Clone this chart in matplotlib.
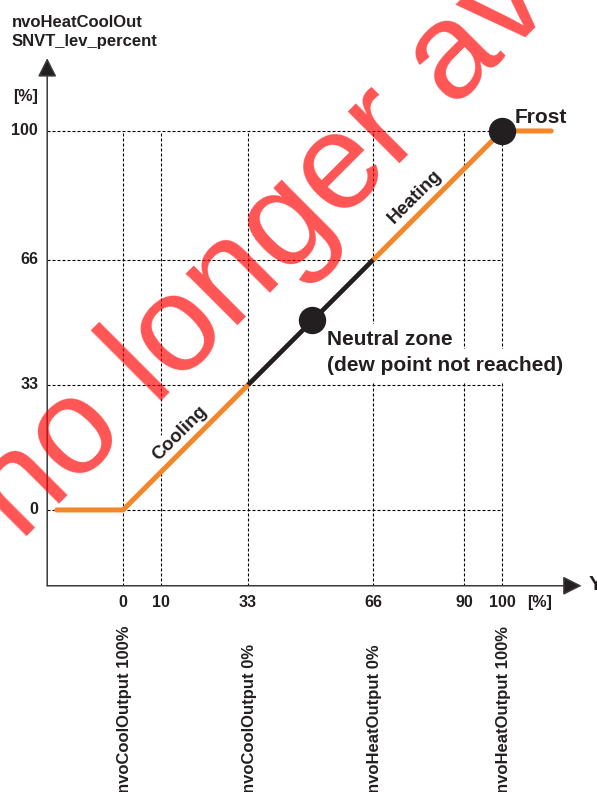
import matplotlib
matplotlib.use("Agg")
import matplotlib.pyplot as plt

plt.rcParams['font.family'] = ['Liberation Sans', 'DejaVu Sans']

# ---- data ----
curve_x = [-17.5, 0, 33, 66, 100, 113]
curve_y = [0, 0, 33, 66, 100, 100]
neutral_seg = (2, 3)          # indexes of black "neutral zone" segment
points_x = [50, 100]
points_y = [50, 100]
x_ticks = [0, 10, 33, 66, 90, 100]
x_tick_labels = ["0", "10", "33", "66", "90", "100"]
y_ticks = [0, 33, 66, 100]
y_tick_labels = ["0", "33", "66", "100"]
out_pos = [0, 33, 66, 100]
out_labels = ["nvoCoolOutput 100%", "nvoCoolOutput 0%",
              "nvoHeatOutput 0%", "nvoHeatOutput 100%"]

ORANGE = '#F4862A'
DARK = '#231F20'
AXC = '#3A3A3A'

W, H = 597, 792
fig = plt.figure(figsize=(W / 100, H / 100), dpi=100)
ax = fig.add_axes([0.07906, 0.2604, 0.9205, 0.6939])
xmin, xmax, ymin, ymax = -20, 125, -20, 125
ax.set_xlim(xmin, xmax)
ax.set_ylim(ymin, ymax)
ax.axis('off')

dash = (0, (2.7, 1.8))
for x in x_ticks:
    ax.plot([x, x], [ymin, 100], color='black', lw=0.8, linestyle=dash, zorder=1)
for y in y_ticks:
    ax.plot([xmin, 100], [y, y], color='black', lw=0.8, linestyle=dash, zorder=1)

# axes with arrows
astyle = '-|>,head_length=11.5,head_width=5.8'
ax.annotate('', xy=(121, ymin), xytext=(xmin, ymin),
            arrowprops=dict(arrowstyle=astyle, mutation_scale=1, lw=1.1,
                            color=AXC, fc=DARK, shrinkA=0, shrinkB=0),
            annotation_clip=False, zorder=5)
ax.annotate('', xy=(xmin, 119.2), xytext=(xmin, ymin),
            arrowprops=dict(arrowstyle=astyle, mutation_scale=1, lw=1.1,
                            color=AXC, fc=DARK, shrinkA=0, shrinkB=0),
            annotation_clip=False, zorder=5)

# curve
a, b = neutral_seg
ax.plot(curve_x[:a + 1], curve_y[:a + 1], color=ORANGE, lw=3.6,
        solid_capstyle='round', solid_joinstyle='round', zorder=3)
ax.plot(curve_x[b:], curve_y[b:], color=ORANGE, lw=3.6,
        solid_capstyle='round', solid_joinstyle='round', zorder=3)
ax.plot(curve_x[a:b + 1], curve_y[a:b + 1], color=DARK, lw=3.4,
        solid_capstyle='butt', zorder=3)
ax.plot(points_x, points_y, 'o', color=DARK, ms=18.7, zorder=4)

# tick labels
for y, lab in zip(y_ticks, y_tick_labels):
    ax.text(-22.4, y, lab, ha='right', va='center', fontsize=11.5,
            fontweight='bold', color=DARK, clip_on=False)
for x, lab in zip(x_ticks, x_tick_labels):
    ax.text(x, -25.6, lab, ha='center', va='baseline', fontsize=11.5,
            fontweight='bold', color=DARK, clip_on=False)
ax.text(110, -25.6, "[%]", ha='center', va='baseline', fontsize=11.5,
        fontweight='bold', color=DARK, clip_on=False)

for x, lab in zip(out_pos, out_labels):
    ax.text(x + 0.4, -74.7, lab, rotation=90, ha='center', va='bottom',
            fontsize=12, fontweight='bold', color=DARK, clip_on=False)

# axis titles
fig.text(12 / W, 1 - 26.7 / H, "nvoHeatCoolOut", ha='left', va='baseline',
         fontsize=12, fontweight='bold', color=DARK)
fig.text(12 / W, 1 - 46 / H, "SNVT_lev_percent", ha='left', va='baseline',
         fontsize=12, fontweight='bold', color=DARK)
fig.text(13 / W, 1 - 101.5 / H, "[%]", ha='left', va='baseline',
         fontsize=11.5, fontweight='bold', color=DARK)
fig.text(589 / W, 1 - 585 / H, "Y", ha='left', va='center',
         fontsize=15, fontweight='bold', color=DARK)

# annotations
wb = dict(facecolor='white', edgecolor='none', pad=2)
ax.text(15.0, 20.3, "Cooling", rotation=45, rotation_mode='anchor',
        ha='center', va='center', fontsize=13.5, fontweight='bold',
        color=DARK, bbox=wb, zorder=2)
ax.text(77.0, 82.6, "Heating", rotation=45, rotation_mode='anchor',
        ha='center', va='center', fontsize=13.5, fontweight='bold',
        color=DARK, bbox=wb, zorder=2)
ax.text(103.4, 102.1, "Frost", ha='left', va='baseline', fontsize=15,
        fontweight='bold', color=DARK, zorder=2)
nb = dict(facecolor='white', edgecolor='none', pad=5)
ax.text(53.8, 43.4, "Neutral zone", ha='left', va='baseline', fontsize=15,
        fontweight='bold', color=DARK, bbox=nb, zorder=2)
ax.text(53.8, 36.6, "(dew point not reached)", ha='left', va='baseline',
        fontsize=15, fontweight='bold', color=DARK, bbox=nb, zorder=2)

# watermark
fig.text(20 / W, 1 - 542 / H, "no longer available", rotation=45,
         rotation_mode='anchor', ha='left', va='baseline', fontsize=99,
         color='red', alpha=0.67, zorder=20)

fig.savefig("out.png", dpi=100)
